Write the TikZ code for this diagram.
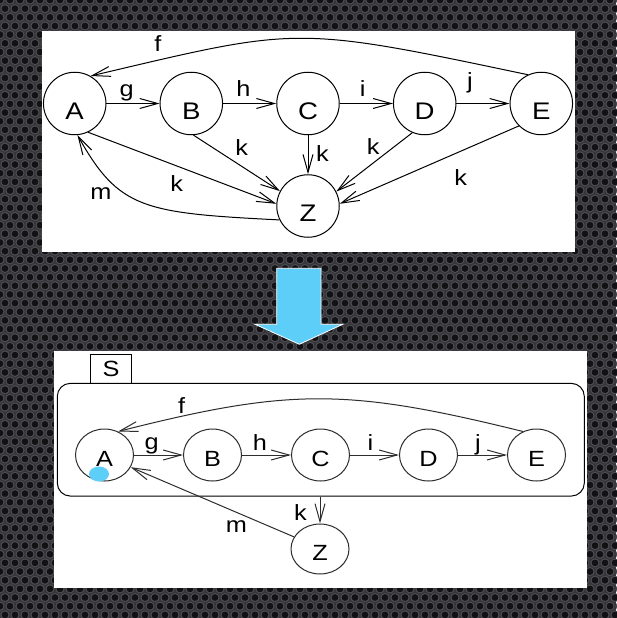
\documentclass[tikz,border=0pt]{standalone}
\usepackage{fontspec}
\setmainfont[FakeStretch=1.15]{Liberation Sans}
\usetikzlibrary{arrows.meta,shapes.geometric}
\definecolor{skyb}{RGB}{93,206,248}
\definecolor{bgbase}{RGB}{54,54,58}
\definecolor{bgring}{RGB}{80,80,86}
\definecolor{bghole}{RGB}{18,18,21}
\definecolor{edgeb}{RGB}{45,45,45}
\tikzset{
  st/.style={circle, draw, line width=1pt, minimum size=62.5pt, inner sep=0pt,
    font=\fontsize{24}{24}\selectfont, text height=31pt, text depth=0pt},
  sst/.style={ellipse, draw=edgeb, line width=1pt, minimum width=58pt, minimum height=52pt, inner sep=0pt,
    font=\fontsize{22}{22}\selectfont, text height=23.4pt, text depth=0pt},
  lbl/.style={anchor=base, font=\fontsize{22}{22}\selectfont, inner sep=0pt},
  tr/.style={line width=1pt, -{Straight Barb[length=18pt,width=10pt]}},
  btr/.style={tr, draw=edgeb},
  panel/.style={fill=white},
}
\begin{document}
\begin{tikzpicture}[x=1pt,y=-1pt]
\useasboundingbox (0,0) rectangle (616,618);
% background perforated metal
\fill[bgbase] (0,0) rectangle (616,618);
\foreach \r in {0,...,72}{
  \pgfmathsetmacro{\yy}{\r*8.66}
  \pgfmathsetmacro{\xo}{mod(\r,2)*5}
  \fill[bgring] foreach \c in {0,...,62} {(\c*10+\xo,\yy) circle (4.5pt)};
  \fill[bghole] foreach \c in {0,...,62} {(\c*10+\xo,\yy) circle (3.4pt)};
}
% panels
\fill[panel] (42,31) rectangle (575,252);
\fill[panel] (54,351) rectangle (587,588);
% big arrow
\filldraw[fill=skyb, draw=white, line width=0.8pt] (276.7,268.3) -- (321,268.3) -- (321,324.3) -- (342.7,324.3) -- (299.3,344.3) -- (255,324.3) -- (276.7,324.3) -- cycle;

% ---------- top diagram ----------
\node[st] (A) at (74.7,103.5) {A};
\node[st] (B) at (191.3,103.5) {B};
\node[st] (C) at (308,103.5) {C};
\node[st] (D) at (424.7,103.5) {D};
\node[st] (E) at (541.3,103.5) {E};
\node[st] (Z) at (308,206) {Z};
\draw[tr] (A) -- (B);
\draw[tr] (B) -- (C);
\draw[tr] (C) -- (D);
\draw[tr] (D) -- (E);
\draw[tr] (E.115) .. controls (292,25) and (299,27) .. (A.60);
\draw[tr] (A.-65) -- (Z.176);
\draw[tr] (B.-86) -- (Z.152);
\draw[tr] (C) -- (Z);
\draw[tr] (D.-113) -- (Z.27);
\draw[tr] (E.-135) -- (Z.4);
\draw[tr] (Z.206) .. controls (143,213) and (119,209) .. (A.-85);
\node[lbl] (lf) at (158,51.7) {f};
\node[lbl] (lg) at (126.7,96.7) {g};
\node[lbl] (lh) at (243.3,96) {h};
\node[lbl] (li) at (362.7,96) {i};
\node[lbl] (lj) at (470,88.7) {j};
\node[lbl] (lk1) at (176.7,191.7) {k};
\node[lbl] (lk2) at (241.7,155) {k};
\node[lbl] (lk3) at (322.5,161.7) {k};
\node[lbl] (lk4) at (373.3,154) {k};
\node[lbl] (lk5) at (460.8,185) {k};
\node[lbl] (lm) at (100.8,199.3) {m};

% ---------- bottom diagram ----------
\node[draw, line width=1pt, rounded corners=13pt, minimum width=527pt, minimum height=112.7pt, inner sep=0pt] (S) at (320.8,439.7) {};
\node[draw, line width=1pt, minimum width=40.6pt, minimum height=29.3pt, inner sep=0pt, font=\fontsize{22}{22}\selectfont] (St) at (111,368.7) {S};
\node[sst] (A2) at (104.5,455) {A};
\node[sst] (B2) at (212.5,455) {B};
\node[sst] (C2) at (320.5,455) {C};
\node[sst] (D2) at (428.5,455) {D};
\node[sst] (E2) at (536.5,455) {E};
\node[sst, minimum height=50pt] (Z2) at (320,549) {Z};
\fill[skyb] (99,474) ellipse [x radius=10pt, y radius=7.5pt];
\draw[btr] (A2) -- (B2);
\draw[btr] (B2) -- (C2);
\draw[btr] (C2) -- (D2);
\draw[btr] (D2) -- (E2);
\draw[btr] (E2.120) .. controls (347,388) and (290,388) .. (A2.60);
\draw[btr] (Z2 |- S.south) -- (Z2);
\draw[btr] (Z2.155) -- (A2.-25);
\node[lbl] (bf) at (181.7,413) {f};
\node[lbl] (bg) at (151.7,449) {g};
\node[lbl] (bh) at (260,450) {h};
\node[lbl] (bi) at (370.5,450) {i};
\node[lbl] (bj) at (478,450) {j};
\node[lbl] (bk) at (300.5,520.7) {k};
\node[lbl] (bm) at (236.3,532.7) {m};
\end{tikzpicture}
\end{document}
